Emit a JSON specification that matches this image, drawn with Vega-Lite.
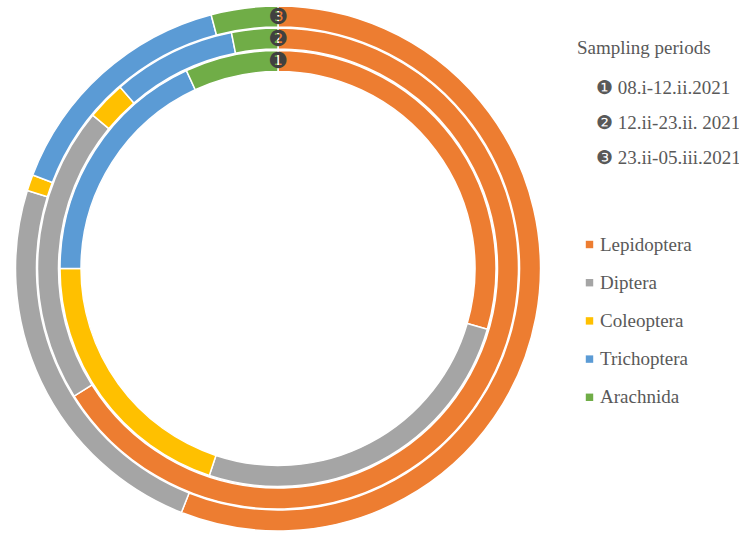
{
  "$schema": "https://vega.github.io/schema/vega-lite/v6.json",
  "width": 556,
  "height": 535,
  "autosize": {"type": "none"},
  "padding": {"top": 1, "left": 0, "right": 183, "bottom": 0},
  "background": "white",
  "config": {
    "view": {"stroke": null},
    "legend": {
      "labelFont": "Liberation Serif",
      "labelFontSize": 19,
      "labelColor": "#595959",
      "titleFont": "Liberation Serif",
      "titleFontSize": 19,
      "titleFontWeight": "normal",
      "titleColor": "#595959"
    }
  },
  "datasets": {
    "rings": [
      {"ring": 1, "taxon": "Lepidoptera", "k": 1, "pct": 29.5},
      {"ring": 1, "taxon": "Diptera", "k": 2, "pct": 25.6},
      {"ring": 1, "taxon": "Coleoptera", "k": 3, "pct": 19.9},
      {"ring": 1, "taxon": "Trichoptera", "k": 4, "pct": 18.1},
      {"ring": 1, "taxon": "Arachnida", "k": 5, "pct": 6.9},
      {"ring": 2, "taxon": "Lepidoptera", "k": 1, "pct": 66.1},
      {"ring": 2, "taxon": "Diptera", "k": 2, "pct": 19.9},
      {"ring": 2, "taxon": "Coleoptera", "k": 3, "pct": 2.6},
      {"ring": 2, "taxon": "Trichoptera", "k": 4, "pct": 8.3},
      {"ring": 2, "taxon": "Arachnida", "k": 5, "pct": 3.1},
      {"ring": 3, "taxon": "Lepidoptera", "k": 1, "pct": 56.0},
      {"ring": 3, "taxon": "Diptera", "k": 2, "pct": 23.8},
      {"ring": 3, "taxon": "Coleoptera", "k": 3, "pct": 1.0},
      {"ring": 3, "taxon": "Trichoptera", "k": 4, "pct": 15.1},
      {"ring": 3, "taxon": "Arachnida", "k": 5, "pct": 4.1}
    ],
    "markers": [
      {"ring": 1, "glyph": "❶", "period": "08.i-12.ii.2021"},
      {"ring": 2, "glyph": "❷", "period": "12.ii-23.ii. 2021"},
      {"ring": 3, "glyph": "❸", "period": "23.ii-05.iii.2021"}
    ]
  },
  "layer": [
    {
      "data": {"name": "rings"},
      "transform": [{"filter": "datum.ring == 1"}],
      "mark": {"type": "arc", "radius": 218, "radius2": 197, "stroke": "white", "strokeWidth": 1.5},
      "encoding": {
        "theta": {"field": "pct", "type": "quantitative", "stack": true, "scale": {"domain": [0, 100]}},
        "order": {"field": "k", "type": "quantitative"},
        "color": {
          "field": "taxon", "type": "nominal",
          "scale": {"domain": ["Lepidoptera", "Diptera", "Coleoptera", "Trichoptera", "Arachnida"],
                    "range": ["#ED7D31", "#A5A5A5", "#FFC000", "#5B9BD5", "#70AD47"]},
          "legend": {"title": null, "orient": "none", "legendX": 580, "legendY": 234, "symbolType": "square", "symbolSize": 55, "symbolStrokeWidth": 0, "labelOffset": 1, "rowPadding": 18.2}
        }
      }
    },
    {
      "data": {"name": "rings"},
      "transform": [{"filter": "datum.ring == 2"}],
      "mark": {"type": "arc", "radius": 240.5, "radius2": 219.5, "stroke": "white", "strokeWidth": 1.5},
      "encoding": {
        "theta": {"field": "pct", "type": "quantitative", "stack": true},
        "order": {"field": "k", "type": "quantitative"},
        "color": {"field": "taxon", "type": "nominal"}
      }
    },
    {
      "data": {"name": "rings"},
      "transform": [{"filter": "datum.ring == 3"}],
      "mark": {"type": "arc", "radius": 262.5, "radius2": 241.5, "stroke": "white", "strokeWidth": 1.5},
      "encoding": {
        "theta": {"field": "pct", "type": "quantitative", "stack": true},
        "order": {"field": "k", "type": "quantitative"},
        "color": {"field": "taxon", "type": "nominal"}
      }
    },
    {
      "data": {"name": "markers"},
      "mark": {"type": "text", "font": "DejaVu Sans", "fontSize": 22, "color": "#404040", "align": "center", "baseline": "middle"},
      "encoding": {
        "theta": {"value": 0},
        "radius": {"field": "ring", "type": "quantitative", "scale": {"type": "linear", "domain": [1, 3], "range": [208, 252], "zero": false}},
        "text": {"field": "glyph"},
        "opacity": {
          "field": "period", "type": "ordinal",
          "scale": {"domain": ["08.i-12.ii.2021", "12.ii-23.ii. 2021", "23.ii-05.iii.2021"], "range": [1, 1, 1]},
          "legend": {
            "title": "Sampling periods", "orient": "none", "legendX": 577, "legendY": 38,
            "symbolSize": 0, "symbolFillColor": "transparent", "symbolStrokeColor": "transparent", "symbolStrokeWidth": 0,
            "labelOffset": 0, "titlePadding": 20, "rowPadding": 15,
            "labelExpr": "(datum.label == '08.i-12.ii.2021' ? '❶' : datum.label == '12.ii-23.ii. 2021' ? '❷' : '❸') + ' ' + datum.label"
          }
        }
      }
    }
  ]
}
